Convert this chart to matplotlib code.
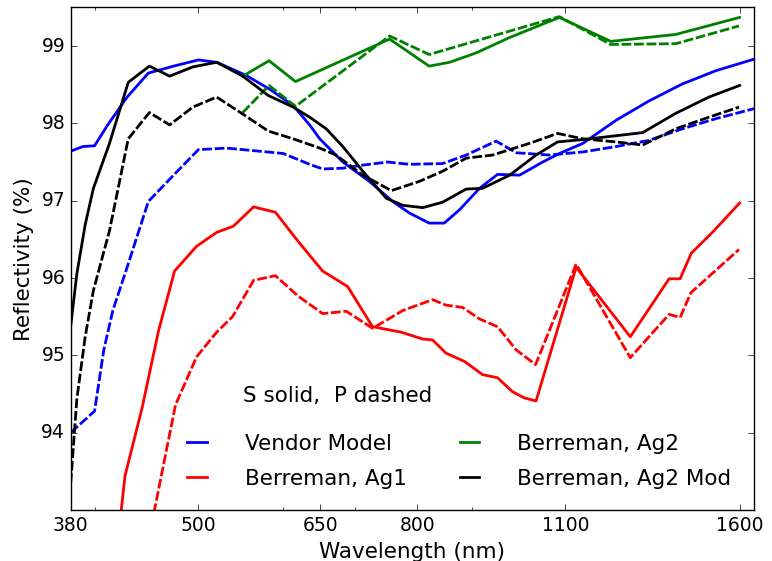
import matplotlib
matplotlib.use('Agg')
import matplotlib.pyplot as plt
from matplotlib.ticker import NullFormatter

plt.style.use('classic')

# reflectivity vs wavelength, S polarisation (solid) and P polarisation (dashed)
vendor_s_wl = [380, 390, 400, 411, 429, 449, 474, 500, 520, 554, 583, 613, 635, 649, 682, 722,
               759, 787, 821, 848, 876, 915, 951, 997, 1048, 1086, 1142, 1227, 1317, 1415, 1520, 1650]
vendor_s = [97.64, 97.70, 97.71, 97.97, 98.34, 98.65, 98.74, 98.82, 98.79, 98.62, 98.44, 98.23,
            97.98, 97.80, 97.50, 97.25, 96.99, 96.84, 96.71, 96.71, 96.88, 97.16, 97.34, 97.33,
            97.50, 97.61, 97.74, 98.04, 98.29, 98.51, 98.68, 98.83]

vendor_p_wl = [380, 400, 408, 416, 429, 449, 474, 500, 531, 570, 600, 635, 653, 682, 712, 751,
               787, 845, 889, 948, 990, 1063, 1142, 1227, 1317, 1415, 1520, 1650]
vendor_p = [94.00, 94.28, 95.07, 95.58, 96.14, 96.99, 97.33, 97.66, 97.68, 97.64, 97.61, 97.47,
            97.41, 97.42, 97.46, 97.50, 97.47, 97.48, 97.59, 97.77, 97.62, 97.59, 97.63, 97.70,
            97.78, 97.93, 98.06, 98.19]

ag1_s_wl = [413, 427, 443, 459, 475, 498, 520, 539, 563, 590, 619, 653, 689, 727, 773, 810,
            827, 851, 886, 921, 951, 982, 1007, 1033, 1126, 1265, 1375, 1408, 1442, 1509, 1600]
ag1_s = [91.6, 93.44, 94.32, 95.32, 96.09, 96.41, 96.59, 96.67, 96.92, 96.85, 96.48, 96.09,
         95.89, 95.37, 95.30, 95.21, 95.20, 95.03, 94.92, 94.75, 94.71, 94.53, 94.45, 94.41,
         96.14, 95.24, 95.99, 95.99, 96.32, 96.59, 96.97]

ag1_p_wl = [443, 476, 498, 520, 538, 563, 590, 619, 653, 687, 727, 776, 827, 851, 882, 915,
            951, 990, 1032, 1126, 1265, 1375, 1408, 1441, 1598]
ag1_p = [92.2, 94.36, 94.98, 95.30, 95.50, 95.97, 96.03, 95.77, 95.54, 95.57, 95.35, 95.58,
         95.72, 95.65, 95.62, 95.47, 95.37, 95.07, 94.88, 96.18, 94.97, 95.53, 95.49, 95.81, 96.37]

ag2_s_wl = [550, 582, 616, 754, 821, 858, 908, 976, 1086, 1213, 1395, 1600]
ag2_s = [98.61, 98.81, 98.54, 99.09, 98.74, 98.79, 98.91, 99.11, 99.37, 99.06, 99.15, 99.37]

ag2_p_wl = [550, 582, 616, 754, 821, 1086, 1213, 1395, 1598]
ag2_p = [98.14, 98.49, 98.22, 99.13, 98.89, 99.38, 99.02, 99.03, 99.26]

ag2mod_s_wl = [380, 385, 392, 399, 413, 430, 450, 470, 494, 520, 550, 581, 613, 635, 658, 682,
               712, 749, 776, 810, 845, 889, 921, 976, 1033, 1082, 1142, 1227, 1299, 1395, 1498, 1600]
ag2mod_s = [95.38, 96.05, 96.69, 97.16, 97.74, 98.53, 98.74, 98.61, 98.73, 98.79, 98.61, 98.36,
            98.21, 98.08, 97.93, 97.70, 97.38, 97.03, 96.94, 96.91, 96.98, 97.15, 97.16, 97.33,
            97.59, 97.76, 97.79, 97.84, 97.88, 98.13, 98.34, 98.49]

ag2mod_p_wl = [380, 385, 392, 399, 413, 430, 450, 470, 494, 520, 550, 581, 613, 649, 672, 712,
               757, 804, 845, 889, 941, 1018, 1082, 1142, 1227, 1299, 1395, 1498, 1598]
ag2mod_p = [93.35, 94.43, 95.24, 95.84, 96.61, 97.80, 98.14, 97.98, 98.21, 98.34, 98.12, 97.90,
            97.80, 97.68, 97.59, 97.33, 97.13, 97.25, 97.38, 97.55, 97.59, 97.74, 97.87, 97.80,
            97.76, 97.72, 97.93, 98.08, 98.21]

xticks = [380, 500, 650, 800, 1100, 1600]

lw = 2
dash = (0, (7, 2))

fig = plt.figure(figsize=(7.72, 5.61), dpi=100, facecolor='white')
ax = fig.add_axes([0.0916, 0.0909, 0.885, 0.896])

ax.plot(vendor_s_wl, vendor_s, color='b', lw=lw, label='Vendor Model')
ax.plot(vendor_p_wl, vendor_p, color='b', lw=lw, linestyle=dash)
ax.plot(ag1_s_wl, ag1_s, color='r', lw=lw, label='Berreman, Ag1')
ax.plot(ag1_p_wl, ag1_p, color='r', lw=lw, linestyle=dash)
ax.plot(ag2_s_wl, ag2_s, color='g', lw=lw, label='Berreman, Ag2')
ax.plot(ag2_p_wl, ag2_p, color='g', lw=lw, linestyle=dash)
ax.plot(ag2mod_s_wl, ag2mod_s, color='k', lw=lw, label='Berreman, Ag2 Mod')
ax.plot(ag2mod_p_wl, ag2mod_p, color='k', lw=lw, linestyle=dash)

ax.set_xscale('log')
ax.set_xlim(380, 1650)
ax.set_ylim(93, 99.5)
ax.set_xticks(xticks)
ax.set_xticklabels([str(t) for t in xticks])
ax.xaxis.set_minor_formatter(NullFormatter())
ax.set_yticks([94, 95, 96, 97, 98, 99])
ax.tick_params(which='major', labelsize=13.5, length=4)
ax.tick_params(which='minor', length=2)

ax.set_xlabel('Wavelength (nm)', fontsize=15.5)
ax.set_ylabel('Reflectivity (%)', fontsize=15.5)

ax.text(550, 94.4, 'S solid,  P dashed', fontsize=15.5)
ax.legend(loc='lower left', bbox_to_anchor=(0.133, 0.004), ncol=2, frameon=False,
          fontsize=15.5, handlelength=1.5, handletextpad=1.47, columnspacing=2.16,
          labelspacing=0.68)

fig.savefig('out.png', dpi=100, facecolor='white')
